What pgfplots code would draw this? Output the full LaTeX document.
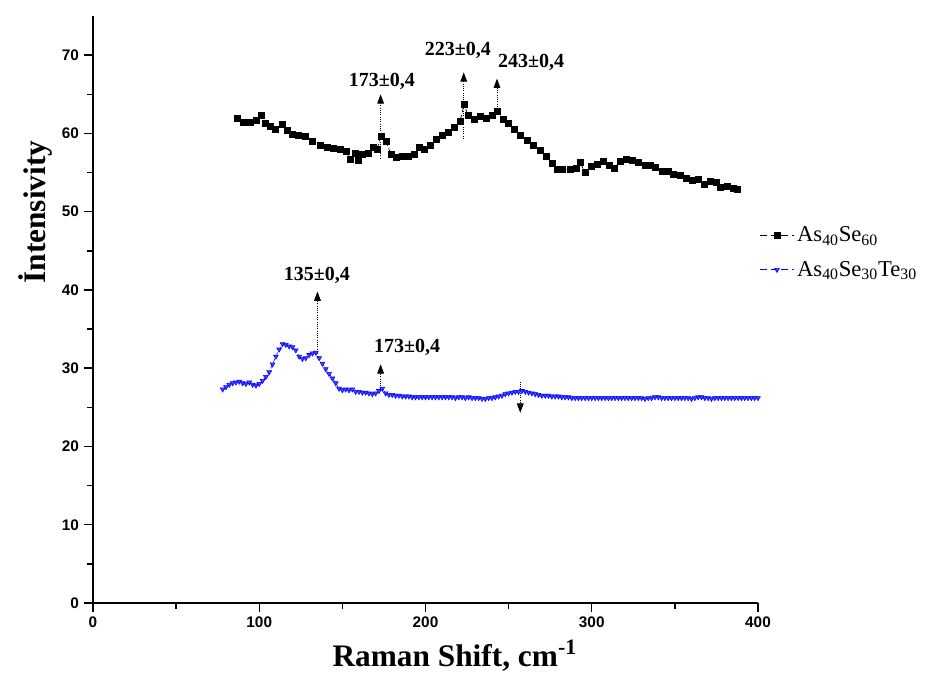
\documentclass[border=0pt]{standalone}
\usepackage{fontspec}
\setmainfont{Liberation Serif}
\setsansfont{Liberation Sans}
\usepackage{pgfplots}
\pgfplotsset{compat=1.18}
\usepackage{pgfplotstable}
\usetikzlibrary{arrows.meta}

% As40Se60 (black squares)
\pgfplotstableread{
x y
86.6 61.94
90.2 61.43
94.4 61.43
98.0 61.68
101.0 62.32
103.5 61.30
106.5 60.92
109.5 60.53
113.7 61.17
116.7 60.40
119.7 59.89
123.3 59.76
127.5 59.64
131.7 59.00
136.5 58.49
140.8 58.23
144.4 58.10
148.6 57.97
152.2 57.72
154.6 56.69
157.6 57.46
159.4 56.57
161.8 57.33
165.4 57.46
168.4 58.23
170.8 57.97
173.2 59.64
176.2 59.00
179.2 57.33
182.3 56.95
185.9 57.08
189.5 57.08
193.1 57.33
196.1 58.23
199.1 57.97
202.7 58.49
206.3 59.25
209.9 59.76
213.5 60.15
217.1 60.79
220.8 61.56
223.2 63.73
225.6 62.32
229.2 61.81
232.8 62.20
236.4 61.94
240.0 62.32
243.0 62.84
246.6 61.81
249.6 61.30
253.2 60.53
256.8 59.76
261.1 59.12
264.7 58.49
268.9 57.85
272.5 57.08
276.1 56.18
279.1 55.41
282.1 55.41
286.9 55.41
290.5 55.54
292.9 56.31
295.9 55.03
299.5 55.80
303.2 56.05
306.8 56.44
310.4 55.93
313.4 55.54
317.0 56.44
320.6 56.69
324.2 56.57
327.8 56.31
332.0 55.93
335.0 55.93
338.0 55.67
342.3 55.16
345.9 55.16
348.9 54.77
353.1 54.65
356.7 54.26
360.3 54.01
363.9 54.13
367.5 53.49
371.1 53.88
374.7 53.75
377.1 53.11
381.4 53.24
385.0 52.98
387.4 52.85
}\seA

% As40Se30Te30 (blue triangles)
\pgfplotstableread{
x y
78 27.3
80 27.6
82 27.9
84 28.1
86 28.2
88 28.3
90 28.1
92 28.0
94 28.2
96 27.9
98 27.8
100 28.0
102 28.4
104 28.9
106 29.5
108 30.5
110 31.5
112 32.4
114 33.1
116 33.0
118 32.8
120 32.7
122 32.3
124 31.5
126 31.2
128 31.3
130 31.7
132 31.9
134 32.0
136 31.3
138 30.6
140 29.9
142 29.3
144 28.7
146 28.1
148 27.4
150 27.2
152 27.3
154 27.2
156 27.3
158 27.0
160 27.0
162 26.9
164 26.9
166 26.8
168 26.7
170 26.8
172 27.1
174 27.4
176 26.8
178 26.6
180 26.6
182 26.5
184 26.5
186 26.4
188 26.4
190 26.4
192 26.3
194 26.3
196 26.3
198 26.3
200 26.3
202 26.3
204 26.3
206 26.3
208 26.3
210 26.3
212 26.3
214 26.3
216 26.3
218 26.2
220 26.3
222 26.3
224 26.2
226 26.3
228 26.2
230 26.2
232 26.2
234 26.1
236 26.1
238 26.2
240 26.2
242 26.3
244 26.4
246 26.5
248 26.7
250 26.8
252 26.9
254 27.0
256 27.0
258 27.1
260 27.0
262 26.9
264 26.8
266 26.7
268 26.6
270 26.5
272 26.5
274 26.5
276 26.4
278 26.4
280 26.4
282 26.3
284 26.3
286 26.3
288 26.2
290 26.2
292 26.2
294 26.2
296 26.2
298 26.2
300 26.2
302 26.2
304 26.2
306 26.2
308 26.2
310 26.2
312 26.2
314 26.2
316 26.2
318 26.2
320 26.2
322 26.2
324 26.2
326 26.2
328 26.2
330 26.2
332 26.1
334 26.2
336 26.2
338 26.3
340 26.3
342 26.2
344 26.2
346 26.2
348 26.2
350 26.2
352 26.2
354 26.2
356 26.2
358 26.2
360 26.1
362 26.2
364 26.3
366 26.3
368 26.2
370 26.2
372 26.1
374 26.2
376 26.2
378 26.2
380 26.2
382 26.2
384 26.2
386 26.2
388 26.2
390 26.2
392 26.2
394 26.2
396 26.2
398 26.2
400 26.2
}\seB

\begin{document}
\begin{tikzpicture}
\begin{axis}[
  scale only axis,
  width=498.75pt, height=440.25pt,
  xmin=0, xmax=400, ymin=0, ymax=75,
  axis lines=left,
  axis line style={-, line width=1.1pt},
  xtick={0,100,...,400}, ytick={0,10,...,70},
  minor x tick num=1, minor y tick num=1,
  tick align=outside,
  major tick length=7pt, minor tick length=4.5pt,
  every tick/.style={black, line width=1.1pt},
  /pgf/number format/assume math mode=true,
  ticklabel style={font=\sffamily\bfseries\fontsize{11.5}{13}\selectfont},
  xlabel={Raman Shift, cm\textsuperscript{-1}},
  ylabel={İntensivity},
  xlabel style={font=\bfseries\fontsize{23.5}{27}\selectfont, at={(axis description cs:0.544,-0.09)}, anchor=center},
  ylabel style={font=\bfseries\fontsize{23.5}{27}\selectfont, at={(axis description cs:-0.087,0.666)}, anchor=center},
  legend style={at={(axis description cs:1.0,0.648)}, anchor=north west,
    draw=none, fill=none, font=\fontsize{17}{20}\selectfont,
    row sep=9pt, inner sep=1pt},
  legend cell align=left,
  legend image code/.code={%
    \draw[dash pattern=on 5pt off 3pt, mark repeat=2, mark phase=2]
      plot coordinates {(0cm,0cm) (0.45cm,0cm) (0.9cm,0cm)};},
  clip=false,
]
\addplot[black, densely dashed, line width=0.5pt, mark=square*,
  mark size=2.3pt, mark options={solid, fill=black}] table {\seA};
\addlegendentry{As\textsubscript{40}Se\textsubscript{60}}
\addplot[blue, densely dashed, line width=0.4pt, mark=triangle*,
  mark size=2.1pt, mark options={solid, rotate=180, fill=blue!75}] table {\seB};
\addlegendentry{As\textsubscript{40}Se\textsubscript{30}Te\textsubscript{30}}

% peak markers
\draw[densely dotted, line width=0.7pt, -{Triangle[width=5pt,length=7pt]}] (axis cs:173,56.8) -- (axis cs:173,65.0);
\draw[densely dotted, line width=0.7pt, -{Triangle[width=5pt,length=7pt]}] (axis cs:223,59.3) -- (axis cs:223,67.8);
\draw[densely dotted, line width=0.7pt, -{Triangle[width=5pt,length=7pt]}] (axis cs:243,62.8) -- (axis cs:243,67.0);
\draw[densely dotted, line width=0.7pt, -{Triangle[width=5pt,length=7pt]}] (axis cs:135,31.5) -- (axis cs:135,39.8);
\draw[densely dotted, line width=0.7pt, -{Triangle[width=5pt,length=7pt]}] (axis cs:173,27.4) -- (axis cs:173,30.5);
\draw[densely dotted, line width=0.7pt, -{Triangle[width=5pt,length=7pt]}] (axis cs:257,28.3) -- (axis cs:257,24.3);

\node[font=\bfseries\fontsize{15}{18}\selectfont] at (axis cs:173.8,66.6) {173±0,4};
\node[font=\bfseries\fontsize{15}{18}\selectfont] at (axis cs:219.5,70.6) {223±0,4};
\node[font=\bfseries\fontsize{15}{18}\selectfont] at (axis cs:263.5,69.1) {243±0,4};
\node[font=\bfseries\fontsize{15}{18}\selectfont] at (axis cs:134.7,41.9) {135±0,4};
\node[font=\bfseries\fontsize{15}{18}\selectfont] at (axis cs:189.0,32.7) {173±0,4};
\end{axis}
\pgfresetboundingbox
\path[use as bounding box] (-69.75pt,-52.5pt) rectangle (624pt,452.25pt);
\end{tikzpicture}
\end{document}
